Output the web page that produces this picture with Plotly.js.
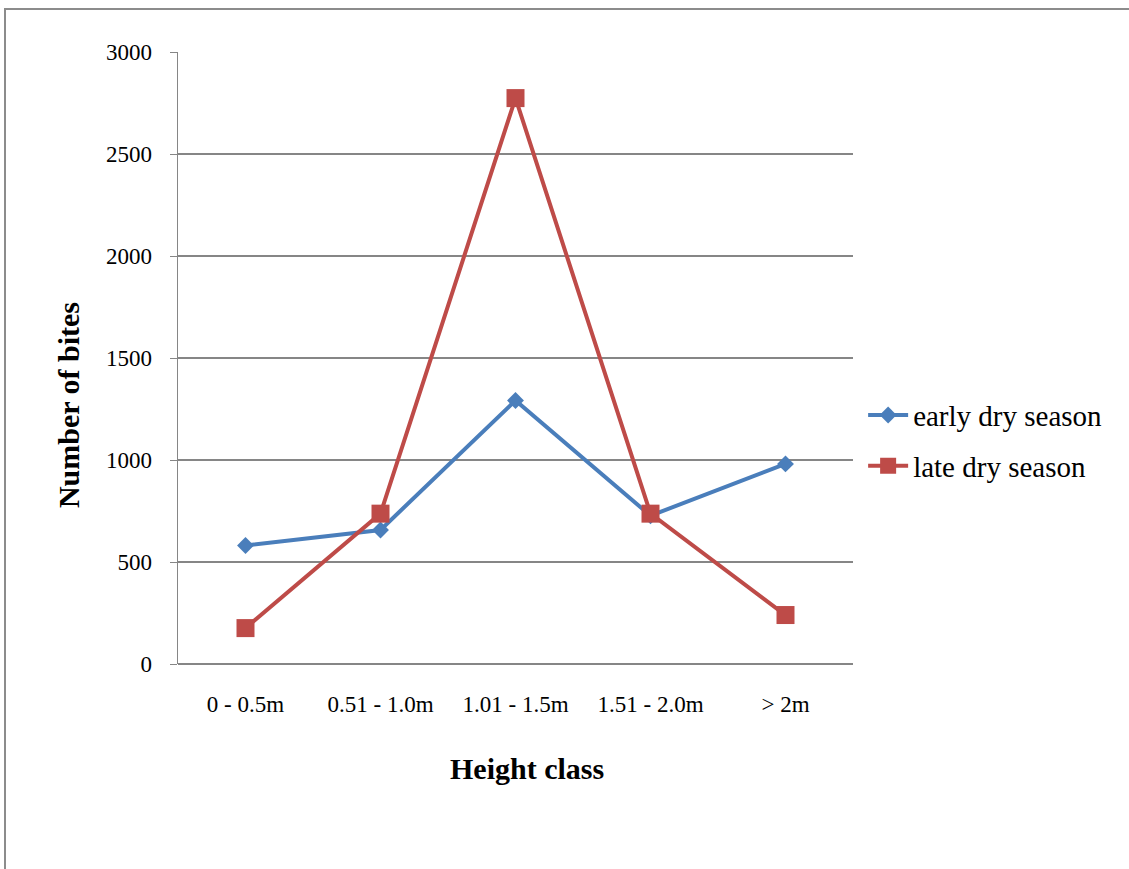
<!DOCTYPE html>
<html>
<head>
<meta charset="utf-8">
<script src="https://cdn.plot.ly/plotly-3.0.1.min.js"></script>
<style>
  html, body { margin: 0; padding: 0; background: #fff; overflow: hidden; }
  #frame { position: absolute; left: 4px; top: 8px; width: 1200px; height: 900px;
           border-left: 2px solid #8c8c8c; border-top: 2px solid #8c8c8c; pointer-events: none; z-index: 5; }
  #chart { position: absolute; left: 0; top: 0; width: 1129px; height: 869px; }
</style>
</head>
<body>
<div id="frame"></div>
<div id="chart"></div>
<script>
const categories = ["0 - 0.5m", "0.51 - 1.0m", "1.01 - 1.5m", "1.51 - 2.0m", "> 2m"];
const earlyDry = [581, 657, 1292, 727, 981];
const lateDry = [176, 737, 2774, 737, 240];
const yTicks = [0, 500, 1000, 1500, 2000, 2500, 3000];
const xTitle = "Height class";
const yTitle = "Number of bites";

const serif = "Liberation Serif, Times New Roman, serif";

const traces = [
  {
    x: categories, y: earlyDry, name: "early dry season", type: "scatter", mode: "lines+markers",
    legendgroup: "a",
    line: { color: "#4a7ebb", width: 4 },
    marker: { symbol: "diamond", size: 13, color: "#4a7ebb" }
  },
  {
    x: categories, y: lateDry, name: "late dry season", type: "scatter", mode: "lines+markers",
    legendgroup: "b",
    line: { color: "#be4b48", width: 4 },
    marker: { symbol: "square", size: 18, color: "#be4b48" }
  }
];

const layout = {
  width: 1129, height: 869,
  margin: { l: 178, r: 276, t: 52, b: 205 },
  paper_bgcolor: "#fff", plot_bgcolor: "#fff",
  showlegend: true,
  font: { family: serif, color: "#000", size: 22 },
  xaxis: {
    type: "category", range: [-0.5, 4.5],
    showgrid: false, zeroline: false,
    showline: false, ticks: "",
    ticklabelstandoff: 24,
    tickfont: { family: serif, size: 23, color: "#000" },
    automargin: false
  },
  yaxis: {
    range: [0, 3000], tickvals: yTicks, ticktext: yTicks.map(String),
    showgrid: true, gridcolor: "#868686", gridwidth: 1.5,
    zeroline: true, zerolinecolor: "#868686", zerolinewidth: 1.5,
    showline: true, linecolor: "#868686", linewidth: 1.5,
    ticks: "outside", ticklen: 7, tickcolor: "#868686",
    ticklabelstandoff: 13,
    tickfont: { family: serif, size: 23, color: "#000" },
    automargin: false
  },
  annotations: [
    { text: "<b>" + xTitle + "</b>", xref: "paper", yref: "paper", x: 0.517, y: -0.17,
      xanchor: "center", yanchor: "middle", showarrow: false,
      font: { family: serif, size: 30, color: "#000" } },
    { text: "<b>" + yTitle + "</b>", xref: "paper", yref: "paper", x: -0.163, y: 0.423,
      xanchor: "center", yanchor: "middle", showarrow: false, textangle: -90,
      font: { family: serif, size: 30, color: "#000" } }
  ],
  legend: {
    x: 1.015, xanchor: "left", y: 0.365, yanchor: "middle",
    font: { family: serif, size: 29, color: "#000" },
    bgcolor: "rgba(0,0,0,0)", tracegroupgap: 10, itemwidth: 40
  }
};

Plotly.newPlot("chart", traces, layout, { displayModeBar: false, staticPlot: true });
</script>
</body>
</html>
